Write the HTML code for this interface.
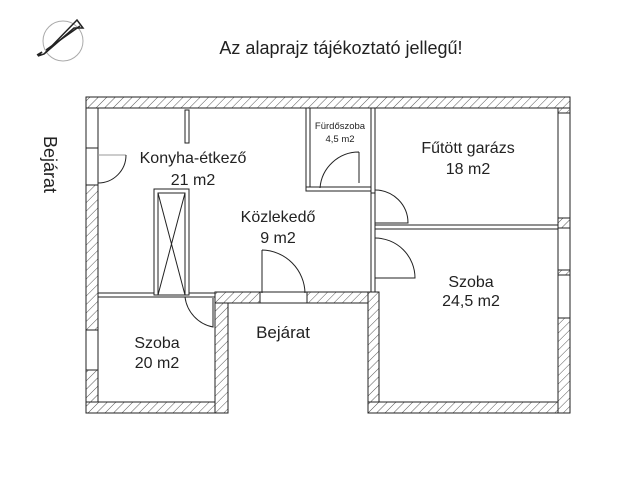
<!DOCTYPE html>
<html><head><meta charset="utf-8"><style>
html,body{margin:0;padding:0;background:#fff;}
svg{display:block;}
text{font-family:"Liberation Sans",sans-serif;fill:#222;}
</style></head><body>
<svg width="640" height="480" viewBox="0 0 640 480" xmlns="http://www.w3.org/2000/svg">
<defs>
<pattern id="h" width="6" height="6" patternUnits="userSpaceOnUse" patternTransform="rotate(45)">
<rect width="6" height="6" fill="#fff"/><line x1="0" y1="0" x2="0" y2="6" stroke="#555" stroke-width="1"/>
</pattern>
</defs>
<!-- compass -->
<circle cx="63" cy="41" r="20" fill="none" stroke="#aaa" stroke-width="1"/>
<polyline points="37,55 42,52 38,56 44,54 77,20 83,28 74,28 44,54" fill="none" stroke="#222" stroke-width="1.5"/>
<line x1="46" y1="50" x2="80" y2="26" stroke="#222" stroke-width="1.5"/>
<text x="341" y="54" font-size="18" text-anchor="middle">Az alaprajz tájékoztató jellegű!</text>
<text x="0" y="0" font-size="18" transform="translate(44,136) rotate(90)">Bejárat</text>

<g stroke="#222" stroke-width="1">
<rect x="86" y="97" width="484" height="11" fill="url(#h)"/>
<rect x="86" y="108" width="12" height="40" fill="#fff"/>
<rect x="86" y="148" width="12" height="37" fill="#fff"/>
<rect x="86" y="185" width="12" height="145" fill="url(#h)"/>
<rect x="86" y="330" width="12" height="40" fill="#fff"/>
<rect x="86" y="370" width="12" height="43" fill="url(#h)"/>
<rect x="86" y="402" width="142" height="11" fill="url(#h)"/>
<rect x="215" y="292" width="13" height="121" fill="url(#h)"/>
<rect x="215" y="292" width="45" height="11" fill="url(#h)"/>
<rect x="260" y="292" width="47" height="11" fill="#fff"/>
<rect x="307" y="292" width="72" height="11" fill="url(#h)"/>
<rect x="368" y="292" width="11" height="121" fill="url(#h)"/>
<rect x="368" y="402" width="202" height="11" fill="url(#h)"/>
<rect x="558" y="108" width="12" height="5" fill="url(#h)"/>
<rect x="558" y="113" width="12" height="105" fill="#fff"/>
<rect x="558" y="218" width="12" height="10" fill="url(#h)"/>
<rect x="558" y="228" width="12" height="42" fill="#fff"/>
<rect x="558" y="270" width="12" height="5" fill="url(#h)"/>
<rect x="558" y="275" width="12" height="43" fill="#fff"/>
<rect x="558" y="318" width="12" height="95" fill="url(#h)"/>
<rect x="98" y="293" width="117" height="4" fill="#fff"/>
<rect x="306" y="108" width="4" height="82" fill="#fff"/>
<rect x="306" y="187" width="69" height="4" fill="#fff"/>
<rect x="371" y="108" width="4" height="85" fill="#fff"/>
<rect x="371" y="193" width="4" height="99" fill="#fff"/>
<rect x="375" y="225" width="183" height="4" fill="#fff"/>
<rect x="185" y="110" width="4" height="33" fill="#fff"/>
<rect x="154" y="189" width="35" height="106" fill="#fff"/>
<rect x="158" y="193" width="27" height="102" fill="#fff"/>
<line x1="158" y1="193" x2="185" y2="295"/><line x1="185" y1="193" x2="158" y2="295"/>
</g>
<g stroke="#222" stroke-width="1" fill="none">
<path d="M98,155 L126,155" stroke="#999"/>
<path d="M126,155 A28,28 0 0 1 98,183"/>
<path d="M359,152 L359,183 M320,188 A39,39 0 0 1 359,152"/>
<path d="M375,190 A33,33 0 0 1 408,223 L375,223"/>
<path d="M375,238 A40,40 0 0 1 415,278 L375,278"/>
<path d="M262,250 L262,293 M262,250 A44,44 0 0 1 305,293"/>
<path d="M185,297 A35,35 0 0 0 213,327 L213,298"/>
</g>
<g font-size="16" text-anchor="middle">
<text x="193" y="163">Konyha-étkező</text>
<text x="193" y="185">21 m2</text>
<text x="278" y="222">Közlekedő</text>
<text x="278" y="243">9 m2</text>
<text x="468" y="153">Fűtött garázs</text>
<text x="468" y="174">18 m2</text>
<text x="471" y="287">Szoba</text>
<text x="471" y="306">24,5 m2</text>
<text x="157" y="348">Szoba</text>
<text x="157" y="368">20 m2</text>
<text x="283" y="338" font-size="17">Bejárat</text>
</g>
<text x="340" y="129" font-size="9.5" text-anchor="middle">Fürdőszoba</text>
<text x="340" y="142" font-size="9.5" text-anchor="middle">4,5 m2</text>
</svg>
</body></html>
